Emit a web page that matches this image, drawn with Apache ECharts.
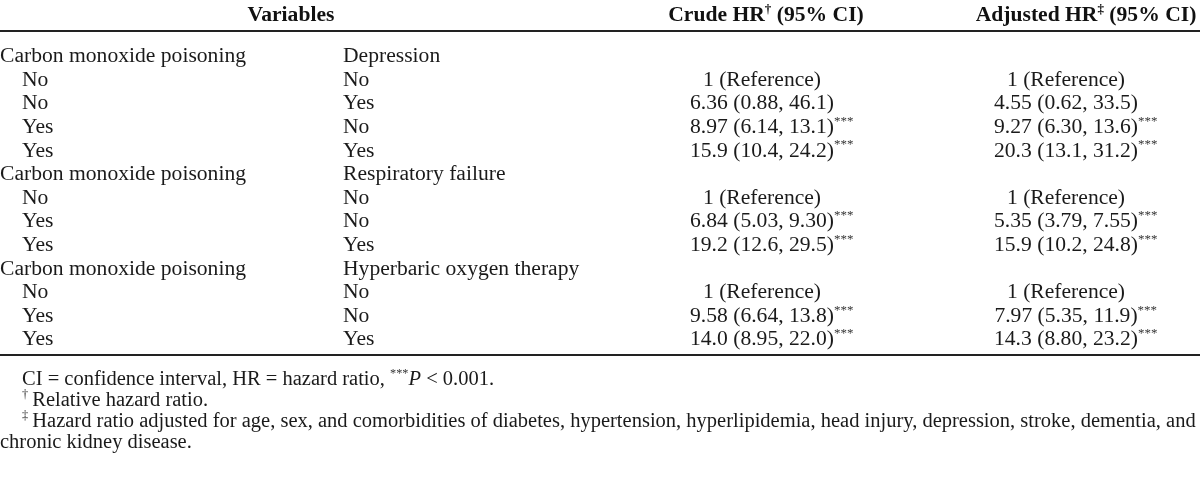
<!DOCTYPE html>
<html>
<head>
<meta charset="utf-8">
<script src="https://cdn.jsdelivr.net/npm/echarts@6/dist/echarts.min.js"></script>
<style>
html,body{margin:0;padding:0;background:#fff;}
#chart{width:1200px;height:485px;}
</style>
</head>
<body>
<div id="chart"></div>
<script>
// ---------------- data ----------------
const headerVariables = 'Variables';
const headerCrude = 'Crude HR';
const headerCrudeMark = '\u2020';
const headerAdjusted = 'Adjusted HR';
const headerAdjustedMark = '\u2021';
const headerCI = ' (95% CI)';

const rowVar1 = ['Carbon monoxide poisoning', 'No', 'No', 'Yes', 'Yes',
  'Carbon monoxide poisoning', 'No', 'Yes', 'Yes',
  'Carbon monoxide poisoning', 'No', 'Yes', 'Yes'];
const rowVar2 = ['Depression', 'No', 'Yes', 'No', 'Yes',
  'Respiratory failure', 'No', 'No', 'Yes',
  'Hyperbaric oxygen therapy', 'No', 'No', 'Yes'];
const rowIsGroup = [true, false, false, false, false, true, false, false, false, true, false, false, false];
const crudeHR = ['', '1 (Reference)', '6.36 (0.88, 46.1)', '8.97 (6.14, 13.1)', '15.9 (10.4, 24.2)',
  '', '1 (Reference)', '6.84 (5.03, 9.30)', '19.2 (12.6, 29.5)',
  '', '1 (Reference)', '9.58 (6.64, 13.8)', '14.0 (8.95, 22.0)'];
const crudeSig = ['', '', '', '***', '***', '', '', '***', '***', '', '', '***', '***'];
const adjustedHR = ['', '1 (Reference)', '4.55 (0.62, 33.5)', '9.27 (6.30, 13.6)', '20.3 (13.1, 31.2)',
  '', '1 (Reference)', '5.35 (3.79, 7.55)', '15.9 (10.2, 24.8)',
  '', '1 (Reference)', '7.97 (5.35, 11.9)', '14.3 (8.80, 23.2)'];
const adjustedSig = ['', '', '', '***', '***', '', '', '***', '***', '', '', '***', '***'];

const footnote1 = ['CI = confidence interval, HR = hazard ratio, ', '***', 'P', ' < 0.001.'];
const footnote2 = ['\u2020', '\u2009Relative hazard ratio.'];
const footnote3 = ['\u2021', '\u2009Hazard ratio adjusted for age, sex, and comorbidities of diabetes, hypertension, hyperlipidemia, head injury, depression, stroke, dementia, and'];
const footnote4 = 'chronic kidney disease.';

// ---------------- layout / style ----------------
const FONT = '"Liberation Serif", "Times New Roman", serif';
const FS = 20;
const SX = 1.08;
const SX_NOTE = 1.025;
const INK = '#1a1a1a';
const COL = { var1: 0, var1Indent: 22, var2: 343, crude: 762, adjusted: 1066 };

const rowIds = rowVar1.map((_, i) => 'r' + i);

const richBase = {
  sup: { fontSize: 12, lineHeight: 12, verticalAlign: 'top', fill: '#333', fontFamily: FONT },
  ghost: { fontSize: 12, lineHeight: 12, verticalAlign: 'top', fill: 'rgba(0,0,0,0)', fontFamily: FONT },
  t: { fontSize: FS, lineHeight: 24, fill: INK, fontFamily: FONT },
  b: { fontSize: 20, lineHeight: 24, fill: '#111', fontFamily: FONT, fontWeight: 'bold' },
  bsup: { fontSize: 12, lineHeight: 12, verticalAlign: 'top', fill: '#111', fontFamily: FONT, fontWeight: 'bold' },
  i: { fontSize: FS, lineHeight: 24, fill: INK, fontFamily: FONT, fontStyle: 'italic' }
};

function textEl(x, y, text, align, sx) {
  return {
    type: 'text', x: x, y: y, scaleX: sx || SX,
    style: {
      text: text, rich: richBase, align: align, verticalAlign: 'middle',
      fontFamily: FONT, fontSize: FS, fill: INK, lineHeight: 24
    }
  };
}

function makeTextSeries(name, xAnchorFn, textFn, align) {
  return {
    type: 'custom', name: name, coordinateSystem: 'cartesian2d',
    xAxisIndex: 0, yAxisIndex: 0, silent: true,
    data: rowIds.map((id, i) => [xAnchorFn(i), i]),
    encode: { x: 0, y: 1 },
    renderItem: function (params, api) {
      const i = params.dataIndex;
      const pt = api.coord([api.value(0), api.value(1)]);
      const txt = textFn(i);
      if (!txt) return null;
      return textEl(pt[0], pt[1], txt, align);
    }
  };
}

function hrText(vals, sig, i) {
  if (!vals[i]) return '';
  if (sig[i]) return '{ghost|' + sig[i] + '}{t|' + vals[i] + '}{sup|' + sig[i] + '}';
  return '{t|' + vals[i] + '}';
}

const option = {
  backgroundColor: '#ffffff',
  animation: false,
  grid: { left: 0, right: 0, top: 45, bottom: 133, containLabel: false },
  xAxis: [
    { type: 'value', min: 0, max: 1200, position: 'top', offset: 14,
      axisLine: { show: true, onZero: false, lineStyle: { color: '#222', width: 2 } },
      axisTick: { show: false }, axisLabel: { show: false }, splitLine: { show: false } },
    { type: 'value', min: 0, max: 1200, position: 'bottom', offset: 3,
      axisLine: { show: true, onZero: false, lineStyle: { color: '#222', width: 2 } },
      axisTick: { show: false }, axisLabel: { show: false }, splitLine: { show: false } }
  ],
  yAxis: { type: 'category', data: rowIds, inverse: true, show: false, boundaryGap: true },
  series: [
    makeTextSeries('var1', i => rowIsGroup[i] ? COL.var1 : COL.var1Indent, i => '{t|' + rowVar1[i] + '}', 'left'),
    makeTextSeries('var2', i => COL.var2, i => '{t|' + rowVar2[i] + '}', 'left'),
    makeTextSeries('crude', i => COL.crude, i => hrText(crudeHR, crudeSig, i), 'center'),
    makeTextSeries('adjusted', i => COL.adjusted, i => hrText(adjustedHR, adjustedSig, i), 'center')
  ],
  graphic: [
    textEl(291, 16, '{b|' + headerVariables + '}', 'center'),
    textEl(766, 16, '{b|' + headerCrude + '}{bsup|' + headerCrudeMark + '}{b|' + headerCI + '}', 'center'),
    textEl(1086, 16, '{b|' + headerAdjusted + '}{bsup|' + headerAdjustedMark + '}{b|' + headerCI + '}', 'center'),
    textEl(22, 380, '{t|' + footnote1[0] + '}{sup|' + footnote1[1] + '}{i|' + footnote1[2] + '}{t|' + footnote1[3] + '}', 'left', SX_NOTE),
    textEl(22, 401, '{sup|' + footnote2[0] + '}{t|' + footnote2[1] + '}', 'left', SX_NOTE),
    textEl(22, 422, '{sup|' + footnote3[0] + '}{t|' + footnote3[1] + '}', 'left', SX_NOTE),
    textEl(0, 443, '{t|' + footnote4 + '}', 'left', SX_NOTE)
  ]
};

const chart = echarts.init(document.getElementById('chart'), null, { renderer: 'canvas' });
chart.setOption(option);
</script>
</body>
</html>
